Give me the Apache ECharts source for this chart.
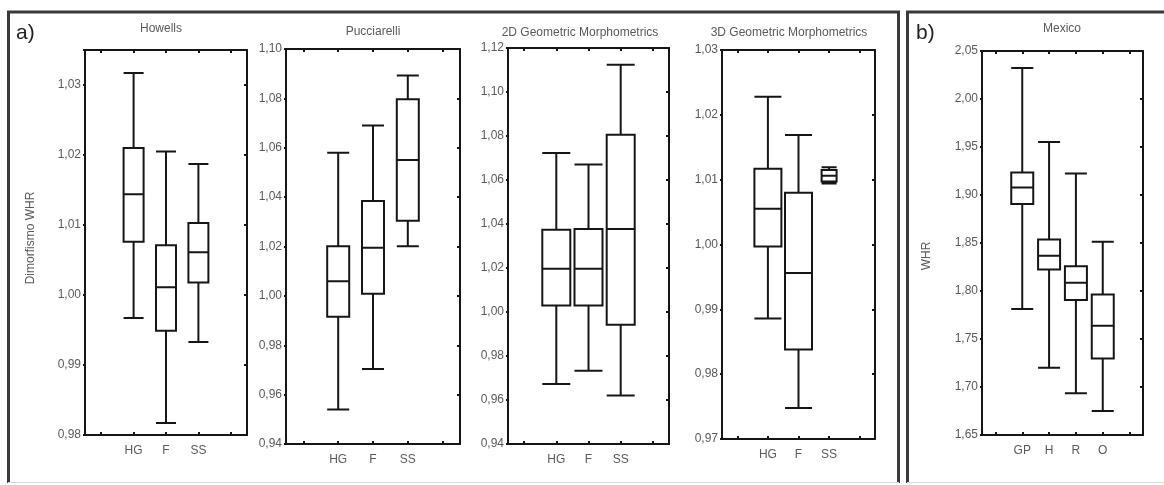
<!DOCTYPE html>
<html>
<head>
<meta charset="utf-8">
<script src="https://cdn.jsdelivr.net/npm/echarts@6/dist/echarts.min.js"></script>
<style>
  html, body { margin: 0; padding: 0; background: #fff; }
  #chart { width: 1164px; height: 485px; }
</style>
</head>
<body>
<div id="chart"></div>
<script>
// Group labels
const groupsA = ['HG', 'F', 'SS'];
const groupsB = ['GP', 'H', 'R', 'O'];

// Panel titles
const titles = ['Howells', 'Pucciarelli', '2D Geometric Morphometrics', '3D Geometric Morphometrics', 'Mexico'];

// Box statistics per group: [min, Q1, median, Q3, max]
const howells = [
  [0.9967, 1.0076, 1.0144, 1.0210, 1.0317],
  [0.9817, 0.9949, 1.0011, 1.0071, 1.0205],
  [0.9933, 1.0018, 1.0061, 1.0103, 1.0187]
];
const pucciarelli = [
  [0.9540, 0.9915, 1.0059, 1.0201, 1.0580],
  [0.9704, 1.0009, 1.0195, 1.0384, 1.0690],
  [1.0201, 1.0304, 1.0550, 1.0796, 1.0893]
];
const geo2d = [
  [0.9673, 1.0029, 1.0197, 1.0374, 1.0723],
  [0.9733, 1.0029, 1.0197, 1.0377, 1.0671],
  [0.9621, 0.9942, 1.0377, 1.0806, 1.1124]
];
const geo3d = [
  [0.9886, 0.9997, 1.0055, 1.0117, 1.0228],
  [0.9748, 0.9838, 0.9956, 1.0080, 1.0169],
  [1.0094, 1.0097, 1.0106, 1.0115, 1.0119]
];
const mexico = [
  [1.7812, 1.8905, 1.9078, 1.9234, 2.0324],
  [1.7201, 1.8224, 1.8367, 1.8537, 1.9553],
  [1.6934, 1.7905, 1.8086, 1.8259, 1.9224],
  [1.6750, 1.7298, 1.7638, 1.7964, 1.8513]
];

// Value axis ranges: [min, max, tick interval]
const yHowells = [0.98, 1.035, 0.01];
const yPucciarelli = [0.94, 1.10, 0.02];
const yGeo2d = [0.94, 1.12, 0.02];
const yGeo3d = [0.97, 1.03, 0.01];
const yMexico = [1.65, 2.05, 0.05];

// Axis titles
const yNameA = 'Dimorfismo WHR';
const yNameB = 'WHR';

// ---- layout ----
const INK = '#161616';
const TXT = '#5a5a5a';
const FONT = '"Liberation Sans", Arial, sans-serif';

const panels = [
  { title: titles[0], tx: 161, ty: 29, grid: { left: 85, top: 50, width: 162, height: 385 }, cats: groupsA, stats: howells, y: yHowells, box: 20 },
  { title: titles[1], tx: 373, ty: 32, grid: { left: 286, top: 49, width: 174, height: 395 }, cats: groupsA, stats: pucciarelli, y: yPucciarelli, box: 22 },
  { title: titles[2], tx: 580, ty: 33, grid: { left: 508, top: 48, width: 161, height: 396 }, cats: groupsA, stats: geo2d, y: yGeo2d, box: 28 },
  { title: titles[3], tx: 789, ty: 33, grid: { left: 722, top: 50, width: 153, height: 389 }, cats: groupsA, stats: geo3d, y: yGeo3d, box: 27, narrow: { idx: 2, box: 15 } },
  { title: titles[4], tx: 1062, ty: 29, grid: { left: 982, top: 51, width: 161, height: 384 }, cats: groupsB, stats: mexico, y: yMexico, box: 22 }
];

function fmt(interval) {
  return function (v) {
    const k = v / interval;
    if (Math.abs(k - Math.round(k)) > 1e-6) return '';
    return v.toFixed(2).replace('.', ',');
  };
}

const grid = [], xAxis = [], yAxis = [], series = [], graphic = [];

panels.forEach(function (p, i) {
  grid.push(Object.assign({ containLabel: false }, p.grid));
  const cats = [''].concat(p.cats, ['']);
  const lineStyle = { color: INK, width: 2 };
  const catTick = { show: true, inside: true, alignWithLabel: true, interval: 0, length: 3, lineStyle: lineStyle };
  const xi = xAxis.length, yi = yAxis.length;

  xAxis.push({
    type: 'category', gridIndex: i, data: cats, position: 'bottom', boundaryGap: true,
    axisLine: { show: true, lineStyle: lineStyle },
    axisTick: catTick,
    axisLabel: { interval: 0, color: TXT, fontSize: 12, fontFamily: FONT, margin: 10 },
    splitLine: { show: false }
  });
  xAxis.push({
    type: 'category', gridIndex: i, data: cats, position: 'top', boundaryGap: true,
    axisLine: { show: true, lineStyle: lineStyle },
    axisTick: catTick,
    axisLabel: { show: false }, splitLine: { show: false }
  });
  yAxis.push({
    type: 'value', gridIndex: i, position: 'left', min: p.y[0], max: p.y[1], interval: p.y[2],
    axisLine: { show: true, lineStyle: lineStyle },
    axisTick: { show: true, inside: false, length: 2, lineStyle: lineStyle },
    axisLabel: { color: TXT, fontSize: 12, fontFamily: FONT, margin: 4, formatter: fmt(p.y[2]) },
    splitLine: { show: false }
  });
  yAxis.push({
    type: 'value', gridIndex: i, position: 'right', min: p.y[0], max: p.y[1], interval: p.y[2],
    axisLine: { show: true, lineStyle: lineStyle },
    axisTick: { show: true, inside: true, length: 3, lineStyle: lineStyle },
    axisLabel: { show: false }, splitLine: { show: false }
  });

  const boxStyle = { color: '#fff', borderColor: INK, borderWidth: 2 };
  const mainIdx = p.cats.map(function (_, k) { return k; })
    .filter(function (k) { return !p.narrow || k !== p.narrow.idx; });

  series.push({
    type: 'boxplot', xAxisIndex: xi, yAxisIndex: yi,
    encode: { x: 0, y: [1, 2, 3, 4, 5] },
    data: mainIdx.map(function (k) { return [p.cats[k]].concat(p.stats[k]); }),
    boxWidth: [p.box, p.box], itemStyle: boxStyle, silent: true,
    emphasis: { disabled: true }, animation: false
  });

  if (p.narrow) {
    // separate hidden base axis so the narrower box keeps its own slot
    const hx = xAxis.length;
    xAxis.push({ type: 'category', gridIndex: i, data: cats, show: false, boundaryGap: true });
    series.push({
      type: 'boxplot', xAxisIndex: hx, yAxisIndex: yi,
      encode: { x: 0, y: [1, 2, 3, 4, 5] },
      data: [[p.cats[p.narrow.idx]].concat(p.stats[p.narrow.idx])],
      boxWidth: [p.narrow.box, p.narrow.box], itemStyle: boxStyle, silent: true,
      emphasis: { disabled: true }, animation: false
    });
  }

  graphic.push({
    type: 'text', x: p.tx, y: p.ty, silent: true,
    style: { text: p.title, fill: TXT, font: '12px ' + FONT, textAlign: 'center', textVerticalAlign: 'middle' }
  });
});

// Panel frames and panel letters
graphic.push(
  { type: 'polyline', silent: true, shape: { points: [[8.5, 483], [8.5, 12], [898.5, 12], [898.5, 483]] },
    style: { stroke: '#3a3a3a', lineWidth: 3, fill: null } },
  { type: 'line', silent: true, shape: { x1: 8, y1: 482.5, x2: 899, y2: 482.5 }, style: { stroke: '#d8d8d8', lineWidth: 1 } },
  { type: 'polyline', silent: true, shape: { points: [[907.5, 483], [907.5, 12], [1170, 12]] },
    style: { stroke: '#3a3a3a', lineWidth: 3, fill: null } },
  { type: 'line', silent: true, shape: { x1: 907, y1: 482.5, x2: 1164, y2: 482.5 }, style: { stroke: '#d8d8d8', lineWidth: 1 } },
  { type: 'text', x: 16, y: 33, silent: true,
    style: { text: 'a)', fill: '#222', font: '21px ' + FONT, textVerticalAlign: 'middle' } },
  { type: 'text', x: 916, y: 33, silent: true,
    style: { text: 'b)', fill: '#222', font: '21px ' + FONT, textVerticalAlign: 'middle' } },
  { type: 'text', x: 31, y: 238, rotation: Math.PI / 2, silent: true,
    style: { text: yNameA, fill: TXT, font: '12px ' + FONT, textAlign: 'center', textVerticalAlign: 'middle' } },
  { type: 'text', x: 927, y: 256, rotation: Math.PI / 2, silent: true,
    style: { text: yNameB, fill: TXT, font: '12px ' + FONT, textAlign: 'center', textVerticalAlign: 'middle' } }
);

const chart = echarts.init(document.getElementById('chart'), null, { renderer: 'canvas' });
chart.setOption({
  backgroundColor: '#fff',
  animation: false,
  grid: grid,
  xAxis: xAxis,
  yAxis: yAxis,
  series: series,
  graphic: graphic
});
</script>
</body>
</html>
